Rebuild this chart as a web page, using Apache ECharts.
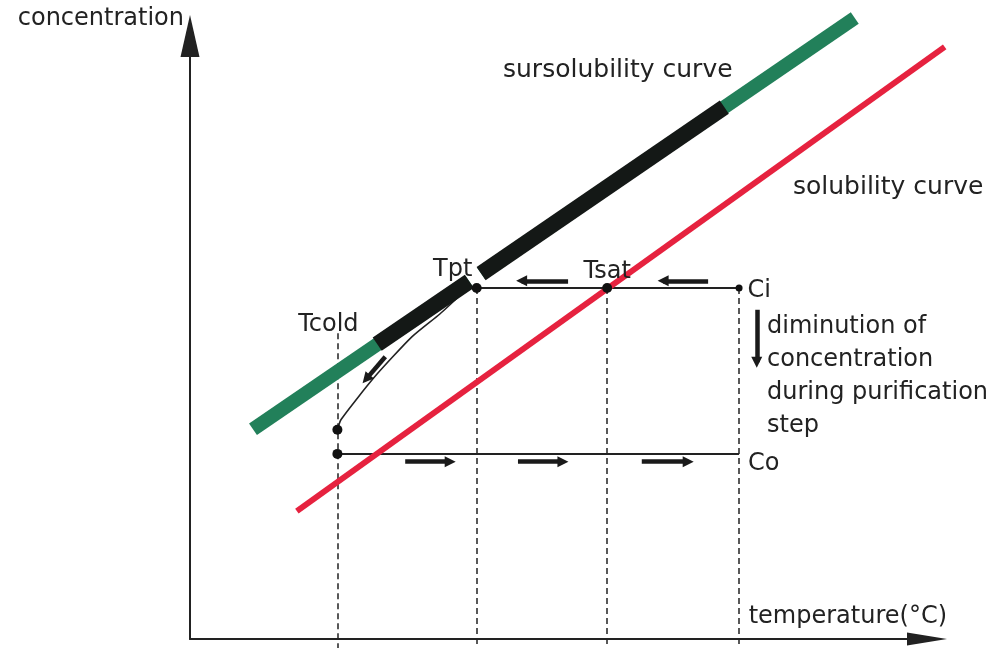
<!DOCTYPE html>
<html>
<head>
<meta charset="utf-8">
<script src="https://cdn.jsdelivr.net/npm/echarts@6/dist/echarts.min.js"></script>
<style>
  html, body { margin: 0; padding: 0; background: #fff; }
  #chart { width: 1008px; height: 648px; }
</style>
</head>
<body>
<div id="chart"></div>
<script>
// Characteristic temperatures (arbitrary 0-100 scale)
const tCold = 20.0;
const tPt = 38.9;
const tSat = 56.6;
const tStart = 74.5;

// Concentration levels (arbitrary 0-100 scale)
const cInitial = 58.2;    // Ci
const cFinal = 30.7;      // Co
const cColdPoint = 34.7;  // reached on cooling down to Tcold

// Sursolubility curve: end points
const sursolX = [8.55, 90.2];
const sursolY = [34.8, 103.0];
// Stretches of the sursolubility curve covered during the step
const bandX = [25.4, 37.9, 39.5, 72.5];
const bandY = [48.9, 59.3, 60.6, 88.2];

// Solubility curve: end points
const solX = [14.5, 102.4];
const solY = [21.2, 98.2];

// Cooling path from the Tcold point back up into the band
const coolX = [20.0, 20.5, 25.0, 30.1, 33.9, 36.9];
const coolY = [34.7, 36.4, 43.4, 50.1, 53.9, 57.3];

// Direction arrows: [from, to] along x, and their levels
const ciArrowX = [[51.3, 45.0], [70.3, 64.2]];
const ciArrowY = 59.4;
const coArrowX = [[29.2, 35.3], [44.5, 50.6], [61.3, 67.6]];
const coArrowY = 29.4;
// Arrow beside the cooling path, and the "diminution" arrow
const coolArrowX = [26.5, 23.9];
const coolArrowY = [46.8, 43.1];
const dimArrowX = 76.9;
const dimArrowY = [54.6, 45.9];

const FONT = '"DejaVu Sans", sans-serif';
const INK = '#222';
const GREEN = '#22805a';
const BLACK = '#141816';
const RED = '#e6223f';
const BOTTOM = -1.5; // dashed guides run down past the axis

const seg = (x1, y1, x2, y2) => ({ coords: [[x1, y1], [x2, y2]] });
const labelStyle = { show: true, fontFamily: FONT, fontSize: 24, color: INK, opacity: 1 };

const option = {
  animation: false,
  backgroundColor: '#fff',
  grid: { left: 190, top: 36, right: 81, bottom: 9 },
  xAxis: {
    type: 'value', min: 0, max: 100,
    axisLine: { lineStyle: { color: '#222', width: 2 }, symbol: ['none', 'triangle'], symbolSize: [13, 40] },
    axisTick: { show: false }, axisLabel: { show: false }, splitLine: { show: false }
  },
  yAxis: {
    type: 'value', min: 0, max: 100,
    name: 'concentration', nameLocation: 'end', nameGap: 17,
    nameTextStyle: { fontFamily: FONT, fontSize: 24, color: INK, align: 'right',
                     verticalAlign: 'middle', padding: [0, 6, 0, 0] },
    axisLine: { lineStyle: { color: '#222', width: 2 }, symbol: ['none', 'triangle'], symbolSize: [19, 42] },
    axisTick: { show: false }, axisLabel: { show: false }, splitLine: { show: false }
  },
  series: [
    // dashed temperature guides
    {
      type: 'lines', coordinateSystem: 'cartesian2d', clip: false, z: 1, silent: true,
      lineStyle: { color: '#222', width: 1.5, type: [6, 4], opacity: 1 },
      data: [
        seg(tCold, 50.7, tCold, BOTTOM),
        seg(tPt, cInitial, tPt, BOTTOM),
        seg(tSat, cInitial, tSat, BOTTOM),
        seg(tStart, cInitial, tStart, BOTTOM)
      ]
    },
    // Ci and Co levels
    {
      type: 'lines', coordinateSystem: 'cartesian2d', clip: false, z: 2, silent: true,
      lineStyle: { color: '#222', width: 2, opacity: 1 },
      data: [
        seg(tPt, cInitial, tStart, cInitial),
        seg(tCold, cFinal, tStart, cFinal)
      ]
    },
    // cooling path
    {
      type: 'line', clip: false, z: 2, smooth: 0.2, showSymbol: false, silent: true,
      lineStyle: { color: '#222', width: 1.6 },
      data: coolX.map((x, i) => [x, coolY[i]])
    },
    // solubility curve
    {
      type: 'lines', coordinateSystem: 'cartesian2d', clip: false, z: 3, silent: true,
      lineStyle: { color: RED, width: 6, opacity: 1 },
      data: [seg(solX[0], solY[0], solX[1], solY[1])]
    },
    // sursolubility curve (with a break at Tpt)
    {
      type: 'lines', coordinateSystem: 'cartesian2d', clip: false, z: 4, silent: true,
      lineStyle: { color: GREEN, width: 14, opacity: 1 },
      data: [
        seg(sursolX[0], sursolY[0], bandX[1], bandY[1]),
        seg(bandX[2], bandY[2], sursolX[1], sursolY[1])
      ]
    },
    // part of the sursolubility curve run through during the step
    {
      type: 'lines', coordinateSystem: 'cartesian2d', clip: false, z: 5, silent: true,
      lineStyle: { color: BLACK, width: 16, opacity: 1 },
      data: [
        seg(bandX[0], bandY[0], bandX[1], bandY[1]),
        seg(bandX[2], bandY[2], bandX[3], bandY[3])
      ]
    },
    // direction arrows
    {
      type: 'lines', coordinateSystem: 'cartesian2d', clip: false, z: 6, silent: true,
      symbol: ['none', 'triangle'], symbolSize: 11,
      lineStyle: { color: '#1a1a1a', width: 4.5, opacity: 1 },
      data: [
        ...ciArrowX.map(a => seg(a[0], ciArrowY, a[1], ciArrowY)),
        ...coArrowX.map(a => seg(a[0], coArrowY, a[1], coArrowY)),
        seg(coolArrowX[0], coolArrowY[0], coolArrowX[1], coolArrowY[1]),
        seg(dimArrowX, dimArrowY[0], dimArrowX, dimArrowY[1])
      ]
    },
    // key points
    {
      type: 'scatter', clip: false, z: 8, symbolSize: 10, silent: true,
      itemStyle: { color: '#111', opacity: 1 },
      label: labelStyle,
      data: [
        { value: [tCold, cColdPoint], label: { show: false } },
        { value: [tCold, cFinal], label: { show: false } },
        { value: [tPt, cInitial], label: { formatter: 'Tpt', position: 'inside', offset: [-24, -18] } },
        { value: [tSat, cInitial], label: { formatter: 'Tsat', position: 'inside', offset: [0, -16] } },
        { value: [tStart, cInitial], symbolSize: 7, label: { formatter: 'Ci', position: 'right', distance: 5, offset: [0, 3] } }
      ]
    },
    // remaining point labels
    {
      type: 'scatter', clip: false, z: 8, symbolSize: 0, silent: true,
      itemStyle: { opacity: 1 },
      label: labelStyle,
      data: [
        { value: [tCold, 50.7], label: { formatter: 'Tcold', position: 'inside', offset: [-9, -9] } },
        { value: [tStart, cFinal], label: { formatter: 'Co', position: 'right', distance: 9, offset: [0, 10] } }
      ]
    }
  ],
  graphic: [
    { type: 'text', x: 947, y: 617, silent: true,
      style: { text: 'temperature(°C)', font: '24px ' + FONT, fill: INK, align: 'right', verticalAlign: 'middle' } },
    { type: 'text', x: 503, y: 70, silent: true,
      style: { text: 'sursolubility curve', font: '25px ' + FONT, fill: INK, align: 'left', verticalAlign: 'middle' } },
    { type: 'text', x: 793, y: 187, silent: true,
      style: { text: 'solubility curve', font: '25px ' + FONT, fill: INK, align: 'left', verticalAlign: 'middle' } },
    { type: 'text', x: 767, y: 310, silent: true,
      style: { text: 'diminution of\nconcentration\nduring purification\nstep', font: '24px ' + FONT,
               fill: INK, align: 'left', verticalAlign: 'top', lineHeight: 33 } }
  ]
};

const chart = echarts.init(document.getElementById('chart'), null, { renderer: 'canvas' });
chart.setOption(option);
</script>
</body>
</html>
